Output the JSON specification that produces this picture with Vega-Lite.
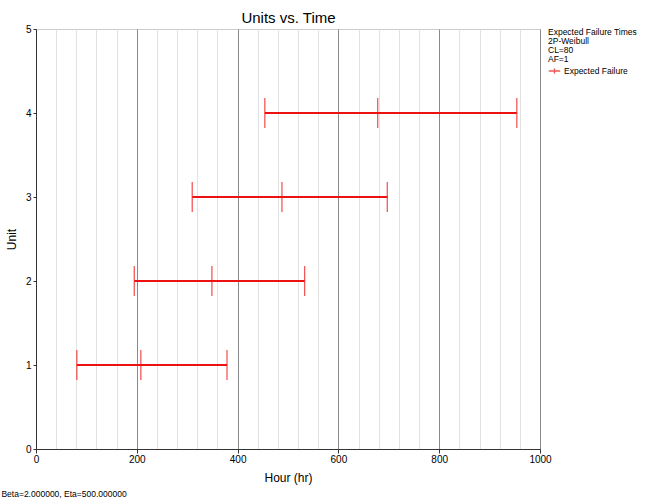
{
  "$schema": "https://vega.github.io/schema/vega-lite/v6.json",
  "width": 504,
  "height": 420,
  "autosize": "none",
  "padding": {"left": 36, "top": 29, "right": 110, "bottom": 52},
  "background": "white",
  "title": {
    "text": "Beta=2.000000, Eta=500.000000",
    "orient": "bottom",
    "anchor": "start",
    "frame": "bounds",
    "offset": 7,
    "dx": -4,
    "fontSize": 8.5,
    "fontWeight": "normal",
    "font": "Liberation Sans",
    "color": "#000"
  },
  "data": {
    "values": [
      {"unit": 1, "low": 81, "mid": 208, "high": 379},
      {"unit": 2, "low": 195, "mid": 349, "high": 533},
      {"unit": 3, "low": 310, "mid": 488, "high": 697},
      {"unit": 4, "low": 454, "mid": 678, "high": 954}
    ]
  },
  "encoding": {
    "y": {
      "field": "unit",
      "type": "quantitative",
      "title": "Unit",
      "scale": {"domain": [0, 5]},
      "axis": {
        "values": [0, 1, 2, 3, 4, 5],
        "grid": false,
        "tickSize": 3,
        "labelPadding": 2,
        "titlePadding": 7,
        "domainColor": "#333",
        "tickColor": "#333"
      }
    },
    "color": {
      "datum": "Expected Failure",
      "type": "nominal",
      "scale": {"range": ["#ee1111"]},
      "legend": {
        "orient": "none",
        "legendX": 512,
        "legendY": -1,
        "title": ["Expected Failure Times", "2P-Weibull", "CL=80", "AF=1"],
        "titleFontSize": 8.5,
        "titleFontWeight": "normal",
        "titleLineHeight": 9,
        "titlePadding": 1,
        "titleColor": "#000",
        "labelFontSize": 8.5,
        "labelColor": "#000",
        "symbolType": "M-1,0H1M0,-0.45V0.45",
        "symbolSize": 130,
        "symbolStrokeWidth": 1.5,
        "symbolOffset": 0,
        "labelOffset": 3,
        "padding": 0
      }
    }
  },
  "layer": [
    {
      "mark": {"type": "rule", "strokeWidth": 2},
      "encoding": {
        "x": {
          "field": "low",
          "type": "quantitative",
          "title": "Hour (hr)",
          "scale": {"domain": [0, 1000], "nice": false},
          "axis": {
            "orient": "bottom",
            "format": "d",
            "values": [0, 40, 80, 120, 160, 200, 240, 280, 320, 360, 400, 440, 480, 520, 560, 600, 640, 680, 720, 760, 800, 840, 880, 920, 960, 1000],
            "labelExpr": "datum.value % 200 === 0 ? datum.label : ''",
            "grid": true,
            "gridColor": {"condition": {"test": "datum.value % 200 === 0", "value": "#8a8a8a"}, "value": "#e2e2e2"},
            "tickSize": {"condition": {"test": "datum.value % 200 === 0", "value": 4}, "value": 0},
            "tickColor": "#333",
            "domainColor": "#333",
            "labelPadding": 1,
            "titlePadding": 8,
            "labelFlush": false
          }
        },
        "x2": {"field": "high"}
      }
    },
    {
      "transform": [{"fold": ["low", "mid", "high"], "as": ["bound", "hour"]}],
      "mark": {"type": "tick", "orient": "vertical", "size": 30, "thickness": 1.3},
      "encoding": {
        "x": {
          "field": "hour",
          "type": "quantitative",
          "title": "Units vs. Time",
          "axis": {
            "orient": "top",
            "labels": false,
            "ticks": false,
            "domain": false,
            "grid": false,
            "titleFontSize": 15,
            "titlePadding": 4
          }
        }
      }
    }
  ],
  "resolve": {"axis": {"x": "independent"}},
  "config": {
    "font": "Liberation Sans",
    "view": {"stroke": "#cccccc"},
    "axis": {
      "labelFontSize": 10,
      "labelColor": "#000",
      "titleFontSize": 12,
      "titleFontWeight": "normal",
      "titleColor": "#000"
    }
  }
}
